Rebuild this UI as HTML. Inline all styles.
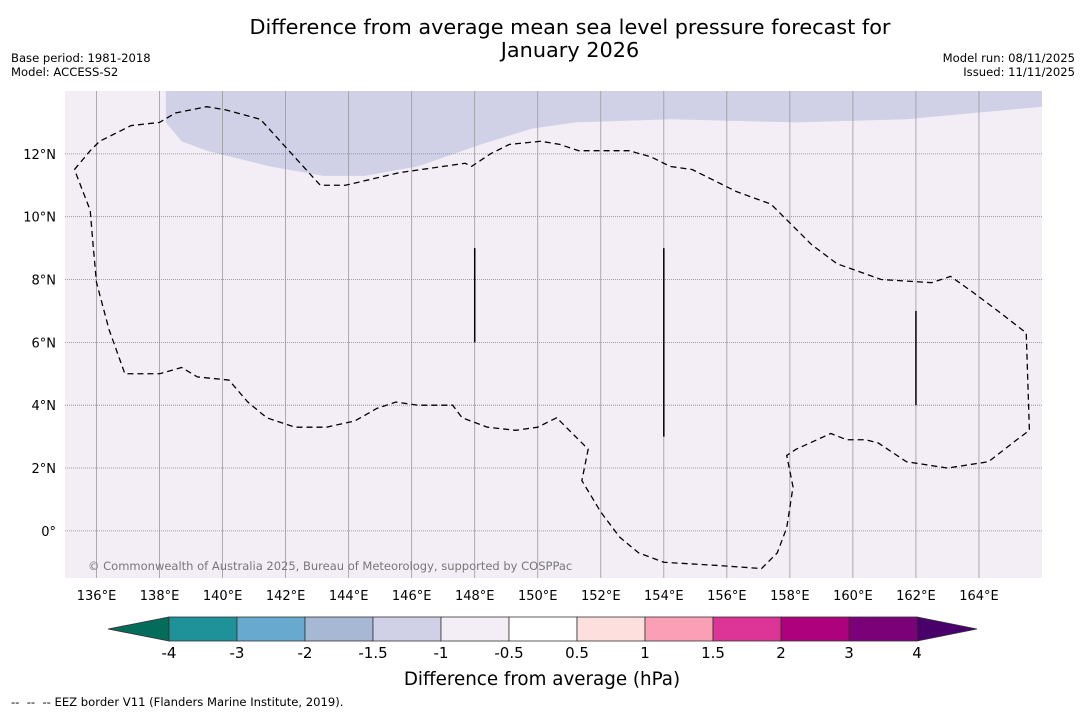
<!DOCTYPE html>
<html><head><meta charset="utf-8"><style>
body{margin:0;background:#fff;}
svg{display:block;font-family:"DejaVu Sans","Liberation Sans",sans-serif;}
</style></head><body>
<svg id="c" width="1085" height="713" viewBox="0 0 1085 713">
<text x="570" y="34" font-size="20.8" text-anchor="middle">Difference from average mean sea level pressure forecast for</text>
<text x="570" y="57" font-size="20.8" text-anchor="middle">January 2026</text>
<text x="11" y="62" font-size="11.6">Base period: 1981-2018</text>
<text x="11" y="76" font-size="11.6">Model: ACCESS-S2</text>
<text x="1075" y="62" font-size="11.6" text-anchor="end">Model run: 08/11/2025</text>
<text x="1075" y="76" font-size="11.6" text-anchor="end">Issued: 11/11/2025</text>
<g id="map"></g>
<g id="cb"></g>
<text x="542" y="685" font-size="18.3" text-anchor="middle">Difference from average (hPa)</text>
<text x="11" y="706" font-size="11.6" xml:space="preserve">--  --  -- EEZ border V11 (Flanders Marine Institute, 2019).</text>
</svg>
<script>
const lonTicks=[136,138,140,142,144,146,148,150,152,154,156,158,160,162,164];
const latTicks=[0,2,4,6,8,10,12];
const cbBounds=[-4,-3,-2,-1.5,-1,-0.5,0.5,1,1.5,2,3,4];
const cbColors=["#1f9198","#67a9cf","#a6b8d4","#d0d1e6","#f3eef6","#ffffff","#fde0dd","#fa9fb5","#dd3497","#ae017e","#7a0177"];
const cbLow="#036c5b", cbHigh="#49006a";
// EEZ border (lon, lat)
const eezLon=[135.3,135.8,136.1,137.1,138,138.5,139.5,140.1,141.2,143.1,143.9,145.6,147.7,147.9,148.5,149.1,150.1,150.7,151.3,151.9,152.9,153.6,154.2,154.9,155.5,156.3,157.4,158,158.7,159.5,160.9,162.5,163.1,163.8,164.6,165.5,165.6,165.2,164.3,163,161.7,160.8,160.4,159.8,159.3,158.2,157.9,158.1,157.9,157.6,157.1,155.7,154,153.2,152.6,152,151.4,151.5,151.6,151.2,150.6,150,149.3,148.4,147.6,147.3,146.2,145.5,144.9,144.2,143.3,142.3,141.4,140.8,140.2,139.2,138.7,138,136.9,136.4,136,135.9,135.8,135.3];
const eezLat=[11.5,12.1,12.4,12.9,13,13.3,13.5,13.4,13.1,11,11,11.4,11.7,11.6,12,12.3,12.4,12.3,12.1,12.1,12.1,11.9,11.6,11.5,11.2,10.8,10.4,9.8,9.1,8.5,8,7.9,8.1,7.6,7,6.3,3.2,2.9,2.2,2,2.2,2.8,2.9,2.9,3.1,2.6,2.4,1.4,0.1,-0.7,-1.2,-1.1,-1,-0.7,-0.2,0.6,1.6,2.1,2.6,3,3.6,3.3,3.2,3.3,3.6,4,4,4.1,3.9,3.5,3.3,3.3,3.6,4.1,4.8,4.9,5.2,5,5,6.4,7.9,9,10.2,11.5];
// negative-anomaly region (-1.5 to -1 hPa) lower boundary (lon, lat)
const negLon=[138.2,138.2,138.7,139.5,141.5,143.2,144.5,146.2,148.2,149.8,151.2,154.2,158.2,161.7,166];
const negLat=[14,13,12.4,12.1,11.6,11.3,11.3,11.6,12.3,12.8,13,13.1,13.0,13.1,13.5];
// vertical EEZ boundary segments: lon, lat1, lat2
const segLon=[148,154,162], segLat1=[9,9,7], segLat2=[6,3,4];

const L=65,R=1042,T=91,B=578,lon0=135,lon1=166,lat0=-1.5,lat1=14;
const X=v=>L+(v-lon0)/(lon1-lon0)*(R-L);
const Y=v=>B-(v-lat0)/(lat1-lat0)*(B-T);
const NS="http://www.w3.org/2000/svg";
function mk(p,tag,a){const e=document.createElementNS(NS,tag);for(const k in a)e.setAttribute(k,a[k]);p.appendChild(e);return e;}
const map=document.getElementById('map');
const bg=mk(map,'rect',{x:L,y:T,width:R-L,height:B-T,fill:'#f3eef6'});


let d='M'+X(negLon[0])+','+Y(lat1);
negLon.forEach((v,i)=>d+=' L'+X(v)+','+Y(negLat[i]));
d+=' L'+X(lon1)+','+Y(lat1)+' Z';
const neg=mk(map,'path',{d:d,fill:'#d0d1e6'});


lonTicks.forEach(v=>{
  const g=mk(map,'line',{x1:X(v),x2:X(v),y1:T,y2:B,stroke:'#999',"stroke-width":0.8});
  
  
  const t=mk(map,'text',{x:X(v),y:600,"font-size":13,"text-anchor":"middle"});t.textContent=v+'°E';
  
  
});
latTicks.forEach(v=>{
  const g=mk(map,'line',{x1:L,x2:R,y1:Y(v),y2:Y(v),stroke:'#888',"stroke-width":0.8,"stroke-dasharray":"1,1"});
  
  
  const t=mk(map,'text',{x:56,y:Y(v)+5,"font-size":13,"text-anchor":"end"});t.textContent=v===0?'0°':v+'°N';
  
  
});
let e='M'+eezLon.map((v,i)=>X(v)+','+Y(eezLat[i])).join(' L');
const eez=mk(map,'path',{d:e,fill:'none',stroke:'#000',"stroke-width":1.3,"stroke-dasharray":"6,4"});


segLon.forEach((v,i)=>{
  const s=mk(map,'line',{x1:X(v),x2:X(v),y1:Y(segLat1[i]),y2:Y(segLat2[i]),stroke:'#000',"stroke-width":1.5});
  
  
});
const cp=mk(map,'text',{x:88,y:570,"font-size":11.5,fill:'#777'});cp.textContent='© Commonwealth of Australia 2025, Bureau of Meteorology, supported by COSPPac';



const cb=document.getElementById('cb');
const cx0=169,cw=68,cy=617,ch=24;
const lt=mk(cb,'polygon',{points:`${cx0},${cy} ${cx0},${cy+ch} 108,${cy+ch/2}`,fill:cbLow,stroke:'#333',"stroke-width":0.8});


const ex=cx0+cw*cbColors.length;
const rt=mk(cb,'polygon',{points:`${ex},${cy} ${ex},${cy+ch} 977,${cy+ch/2}`,fill:cbHigh,stroke:'#333',"stroke-width":0.8});


cbColors.forEach((c,i)=>{
  const r=mk(cb,'rect',{x:cx0+i*cw,y:cy,width:cw,height:ch,fill:c,stroke:'#333',"stroke-width":0.8});
  
  
});
cbBounds.forEach((b,i)=>{
  const t=mk(cb,'text',{x:cx0+i*cw,y:658,"font-size":15,"text-anchor":"middle"});t.textContent=b;
  
  
});
</script>
</body></html>
